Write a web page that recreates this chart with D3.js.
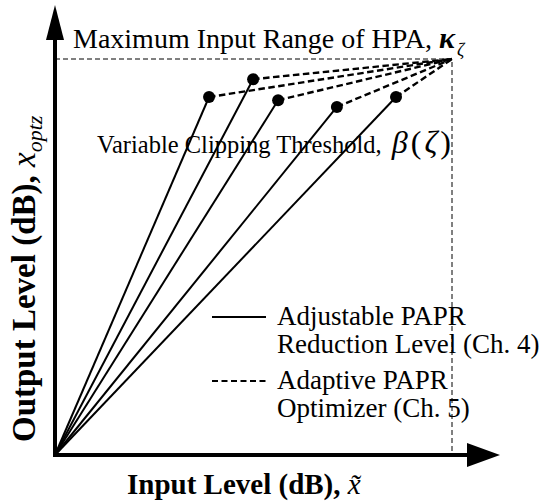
<!DOCTYPE html>
<html>
<head>
<meta charset="utf-8">
<script src="https://cdn.jsdelivr.net/npm/d3@7/dist/d3.min.js"></script>
<style>
  html, body { margin: 0; padding: 0; background: #fff; }
  svg { display: block; font-family: "Liberation Serif", "Times New Roman", serif; }
</style>
</head>
<body>
<svg id="chart" width="544" height="501"></svg>
<script>
// Clipping thresholds (input level, output level) in relative units
const clipInput  = [38.8, 49.9, 56.2, 71.0, 85.9];
const clipOutput = [90.4, 94.9, 89.6, 87.9, 90.4];
// Maximum input range of the HPA
const kappa = [100, 100];

const legendItems = [
  { dash: null,    lines: ["Adjustable PAPR", "Reduction Level (Ch. 4)"] },
  { dash: "6,3.5", lines: ["Adaptive PAPR", "Optimizer (Ch. 5)"] }
];

const svg = d3.select("#chart");
const origin = { x: 55, y: 455 };

const x = d3.scaleLinear().domain([0, 100]).range([origin.x, 452]);
const y = d3.scaleLinear().domain([0, 100]).range([origin.y, 59]);

// Guide lines to the maximum input range point
svg.append("path")
  .attr("d", `M${x(0)},${y(kappa[1])}H${x(kappa[0])}V${y(0)}`)
  .attr("fill", "none").attr("stroke", "#000").attr("stroke-width", 1)
  .attr("stroke-dasharray", "5,3");

const pts = clipInput.map((v, i) => [v, clipOutput[i]]);

// Solid linear regions from origin to each clipping threshold
svg.selectAll("line.lin").data(pts).join("line")
  .attr("class", "lin")
  .attr("x1", x(0)).attr("y1", y(0))
  .attr("x2", d => x(d[0])).attr("y2", d => y(d[1]))
  .attr("stroke", "#000").attr("stroke-width", 2);

// Dashed optimisation paths from each threshold to kappa
svg.selectAll("line.opt").data(pts).join("line")
  .attr("class", "opt")
  .attr("x1", d => x(d[0])).attr("y1", d => y(d[1]))
  .attr("x2", x(kappa[0])).attr("y2", y(kappa[1]))
  .attr("stroke", "#000").attr("stroke-width", 2.4)
  .attr("stroke-dasharray", "6.5,3.5");

svg.selectAll("circle.pt").data(pts).join("circle")
  .attr("class", "pt")
  .attr("cx", d => x(d[0])).attr("cy", d => y(d[1]))
  .attr("r", 6).attr("fill", "#000");

// Axes with arrowheads
svg.append("line")
  .attr("x1", origin.x).attr("y1", origin.y + 2)
  .attr("x2", origin.x).attr("y2", 38)
  .attr("stroke", "#000").attr("stroke-width", 4);
svg.append("line")
  .attr("x1", origin.x - 2).attr("y1", origin.y)
  .attr("x2", 470).attr("y2", origin.y)
  .attr("stroke", "#000").attr("stroke-width", 4);
svg.append("path")
  .attr("d", `M${origin.x},5 L${origin.x - 9},40 L${origin.x + 9},40 Z`)
  .attr("fill", "#000");
svg.append("path")
  .attr("d", `M500,${origin.y} L467,${origin.y - 12} L467,${origin.y + 12} Z`)
  .attr("fill", "#000");

// Annotations
const t1 = svg.append("text").attr("x", 73).attr("y", 48)
  .attr("font-size", 28);
t1.append("tspan").text("Maximum Input Range of HPA, ");
t1.append("tspan").attr("font-style", "italic").attr("font-weight", "bold")
  .attr("font-size", 30).text("κ");
t1.append("tspan").attr("font-style", "italic").attr("font-size", 18)
  .attr("dx", 2).attr("dy", 8).text("ζ");

const t2 = svg.append("text").attr("x", 97).attr("y", 153)
  .attr("font-size", 24.5);
t2.append("tspan").text("Variable Clipping Threshold, ");
t2.append("tspan").attr("font-size", 32).attr("letter-spacing", 3)
  .attr("dx", 4)
  .html('<tspan font-style="italic">β</tspan>(<tspan font-style="italic">ζ</tspan>)');

// Legend
const lg = svg.append("g");
legendItems.forEach((it, i) => {
  const yy = 317 + i * 64;
  lg.append("line")
    .attr("x1", 212).attr("x2", 266).attr("y1", yy).attr("y2", yy)
    .attr("stroke", "#000").attr("stroke-width", 2)
    .attr("stroke-dasharray", it.dash);
  it.lines.forEach((s, j) => {
    lg.append("text").attr("x", 277).attr("y", yy + 8 + j * 28)
      .attr("font-size", 27).text(s);
  });
});

// Axis titles
const xl = svg.append("text").attr("x", 127).attr("y", 494)
  .attr("font-size", 29).attr("font-weight", "bold");
xl.append("tspan").text("Input Level (dB), ");
xl.append("tspan").attr("font-weight", "normal").attr("font-style", "italic").text("x̃");

const yl = svg.append("text")
  .attr("transform", "translate(35,442) rotate(-90)")
  .attr("font-size", 33).attr("font-weight", "bold");
yl.append("tspan").text("Output Level (dB), ");
yl.append("tspan").attr("font-weight", "normal").attr("font-style", "italic").text("x");
yl.append("tspan").attr("font-weight", "normal").attr("font-style", "italic")
  .attr("font-size", 22).attr("dy", 7).text("optz");
</script>
</body>
</html>
